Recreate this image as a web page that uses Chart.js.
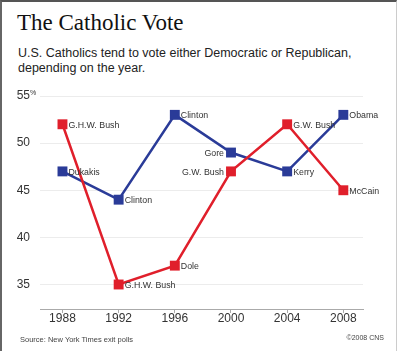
<!DOCTYPE html>
<html lang="en">
<head>
<meta charset="UTF-8">
<title>The Catholic Vote</title>
<script src="https://cdn.jsdelivr.net/npm/chart.js"></script>
<style>
    body { margin: 0; background: #fff; }
    .frame {
        position: relative;
        width: 394px;
        height: 349px;
        border-top: 2px solid #555;
        border-left: 2px solid #666;
        border-right: 1px solid #ccc;
        overflow: hidden;
        font-family: "Liberation Sans", Arial, sans-serif;
        color: #222;
    }
    .title {
        position: absolute; left: 15px; top: 8px;
        font-family: "Liberation Serif", "DejaVu Serif", serif;
        font-size: 23px; color: #111;
    }
    .subtitle {
        position: absolute; left: 16px; top: 44px;
        font-size: 12.5px; line-height: 15px; color: #222;
    }
    .source { position: absolute; left: 18px; top: 333px; font-size: 7.5px; color: #444; }
    .credit { position: absolute; right: 12px; top: 332px; font-size: 7px; color: #444; }
    canvas { position: absolute; left: -2px; top: -2px; }
</style>
</head>
<body>
<div class="frame">
    <div class="title">The Catholic Vote</div>
    <div class="subtitle">U.S. Catholics tend to vote either Democratic or Republican,<br>depending on the year.</div>
    <canvas id="voteChart" width="400" height="351"></canvas>
    <div class="source">Source: New York Times exit polls</div>
    <div class="credit">©2008 CNS</div>
</div>
<script>
    const years = [1988, 1992, 1996, 2000, 2004, 2008];
    const yTicks = [35, 40, 45, 50, 55];
    const demValues = [47, 44, 53, 49, 47, 53];
    const repValues = [52, 35, 37, 47, 52, 45];
    const demNames = ['Dukakis', 'Clinton', 'Clinton', 'Gore', 'Kerry', 'Obama'];
    const repNames = ['G.H.W. Bush', 'G.H.W. Bush', 'Dole', 'G.W. Bush', 'G.W. Bush', 'McCain'];
    const leftLabelYears = [2000];

    const BLUE = '#2a3b98';
    const RED = '#e01f2b';

    // names next to each marker, plus the little % on the top tick
    const labelPlugin = {
        id: 'pointNames',
        afterDatasetsDraw(chart) {
            const ctx = chart.ctx;
            ctx.save();
            ctx.font = '8.8px "Liberation Sans", Arial, sans-serif';
            ctx.fillStyle = '#333';
            ctx.textBaseline = 'middle';
            chart.data.datasets.forEach((ds, i) => {
                const meta = chart.getDatasetMeta(i);
                meta.data.forEach((pt, j) => {
                    const left = leftLabelYears.includes(years[j]);
                    ctx.textAlign = left ? 'right' : 'left';
                    ctx.fillText(ds.names[j], pt.x + (left ? -7 : 6), pt.y + 1);
                });
            });
            const y = chart.scales.y;
            ctx.font = '7px "Liberation Sans", Arial, sans-serif';
            ctx.textAlign = 'left';
            ctx.fillText('%', y.right - 10, y.getPixelForValue(55) - 3);
            ctx.restore();
        }
    };

    new Chart(document.getElementById('voteChart'), {
        type: 'line',
        data: {
            datasets: [
                {
                    label: 'Republican',
                    names: repNames,
                    data: years.map((yr, i) => ({ x: yr, y: repValues[i] })),
                    borderColor: RED,
                    backgroundColor: RED,
                    borderWidth: 2.5,
                    pointStyle: 'rect',
                    pointRadius: 7,
                    pointHoverRadius: 7,
                    pointBorderWidth: 0
                },
                {
                    label: 'Democratic',
                    names: demNames,
                    data: years.map((yr, i) => ({ x: yr, y: demValues[i] })),
                    borderColor: BLUE,
                    backgroundColor: BLUE,
                    borderWidth: 2.5,
                    pointStyle: 'rect',
                    pointRadius: 7,
                    pointHoverRadius: 7,
                    pointBorderWidth: 0
                }
            ]
        },
        options: {
            responsive: false,
            animation: false,
            devicePixelRatio: 1,
            layout: { padding: { left: 0, right: 37, top: 96, bottom: 0 } },
            plugins: { legend: { display: false }, tooltip: { enabled: false } },
            scales: {
                x: {
                    type: 'linear',
                    min: 1986.4,
                    max: 2009.4,
                    afterFit: (s) => { s.height = 42; },
                    afterBuildTicks: (s) => { s.ticks = years.map(v => ({ value: v })); },
                    grid: { drawOnChartArea: false, drawTicks: true, tickLength: 4, color: '#aaa' },
                    border: { color: '#aaa', width: 1 },
                    ticks: {
                        padding: -2,
                        color: '#333',
                        font: { family: '"Liberation Sans", Arial, sans-serif', size: 12 },
                        callback: (v) => String(v)
                    }
                },
                y: {
                    min: 32.4,
                    max: 55,
                    afterFit: (s) => { s.width = 40; },
                    afterBuildTicks: (s) => { s.ticks = yTicks.map(v => ({ value: v })); },
                    grid: { color: '#ececec', drawTicks: false },
                    border: { display: false },
                    ticks: {
                        padding: 10,
                        color: '#333',
                        font: { family: '"Liberation Sans", Arial, sans-serif', size: 12 }
                    }
                }
            }
        },
        plugins: [labelPlugin]
    });
</script>
</body>
</html>
